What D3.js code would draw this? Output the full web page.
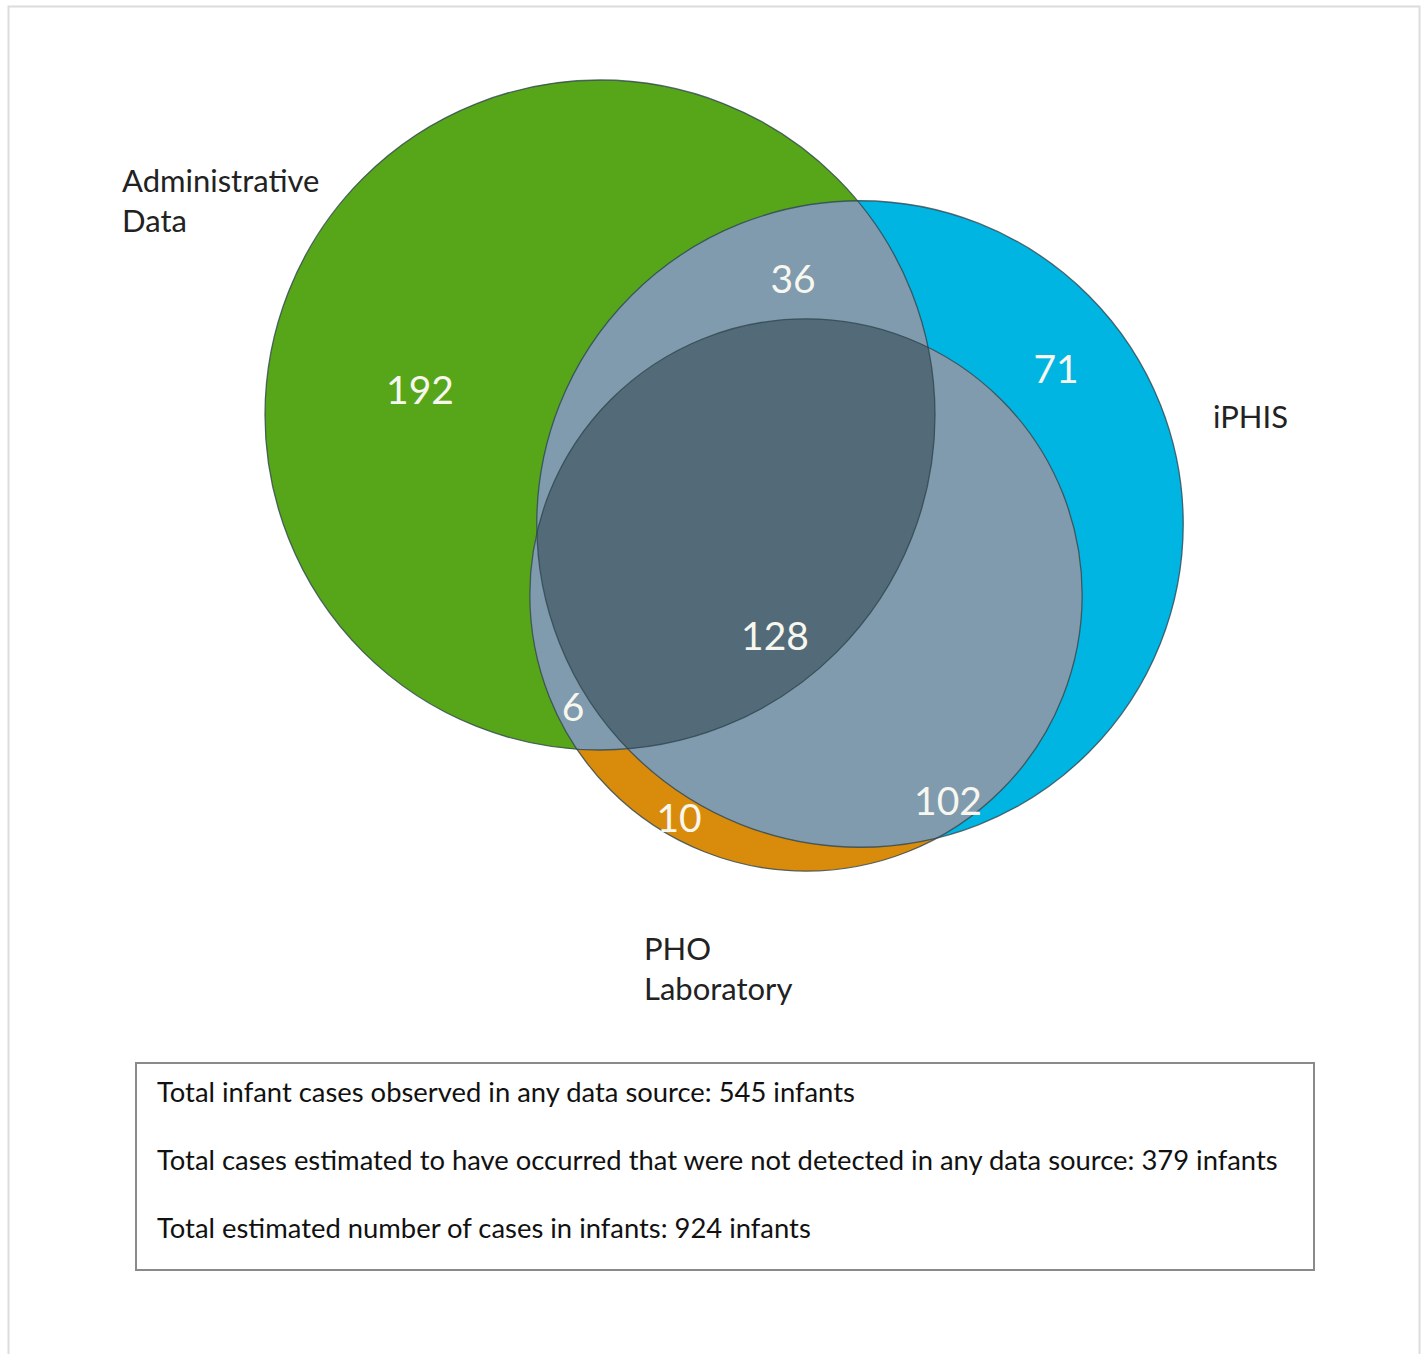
<!DOCTYPE html>
<html>
<head>
<meta charset="utf-8">
<script src="https://cdn.jsdelivr.net/npm/d3@7"></script>
<style>
  body { margin: 0; background: #fff; }
  text { font-family: Lato, "Open Sans", sans-serif; }
</style>
</head>
<body>
<script>

var w = 1423;
var h = 1354;

// sets and region counts (A = Administrative Data, B = iPHIS, C = PHO Laboratory)
var setKeys = ["A", "B", "C"];
var setNames = [["Administrative", "Data"], ["iPHIS"], ["PHO", "Laboratory"]];
var regionKeys = ["A", "B", "C", "AB", "AC", "BC", "ABC"];
var regionCounts = [192, 71, 10, 36, 6, 102, 128];

var summaryLines = [
  "Total infant cases observed in any data source: 545 infants",
  "Total cases estimated to have occurred that were not detected in any data source: 379 infants",
  "Total estimated number of cases in infants: 924 infants"
];

// layout (pixels)
var centers = { A: [600, 415], B: [860, 524], C: [806, 595] };
var setLabelPos = { A: [122, 192], B: [1213, 428], C: [644, 960] };
var regionLabelPos = {
  A: [420, 404], B: [1056, 383], C: [679, 832],
  AB: [793, 293], AC: [573, 721], BC: [948, 815], ABC: [775, 650]
};

var colors = { A: "#57a619", B: "#00b5e2", C: "#d98c0b" };
var pairColor = "#7f9bad";
var tripleColor = "#536b78";

// set totals -> area proportional radius
var totals = setKeys.map(function(k) {
  return d3.sum(regionKeys, function(r, i) { return r.indexOf(k) >= 0 ? regionCounts[i] : 0; });
});
var r = d3.scaleSqrt().domain([0, d3.max(totals)]).range([0, 335]);

var circles = setKeys.map(function(k, i) {
  return { key: k, cx: centers[k][0], cy: centers[k][1], r: r(totals[i]) };
});
var byKey = {};
circles.forEach(function(c) { byKey[c.key] = c; });

var svg = d3.select("body")
        .append("svg")
        .attr("width", w)
        .attr("height", h);

// outer frame
svg.append("rect")
    .attr("x", 8.5).attr("y", 6.5)
    .attr("width", 1411).attr("height", 1360)
    .attr("fill", "none")
    .attr("stroke", "#dcdcdc")
    .attr("stroke-width", 2);

var defs = svg.append("defs");
circles.forEach(function(c) {
  defs.append("clipPath").attr("id", "clip" + c.key)
    .append("circle")
    .attr("cx", c.cx).attr("cy", c.cy).attr("r", c.r);
});

// base circles
svg.selectAll("circle.set")
    .data(circles)
    .enter()
    .append("circle")
    .attr("class", "set")
    .attr("cx", function(d) { return d.cx; })
    .attr("cy", function(d) { return d.cy; })
    .attr("r", function(d) { return d.r; })
    .attr("fill", function(d) { return colors[d.key]; });

// pairwise overlaps
[["A", "B"], ["A", "C"], ["B", "C"]].forEach(function(p) {
  var c = byKey[p[1]];
  svg.append("g")
      .attr("clip-path", "url(#clip" + p[0] + ")")
    .append("circle")
      .attr("cx", c.cx).attr("cy", c.cy).attr("r", c.r)
      .attr("fill", pairColor);
});

// triple overlap
var c3 = byKey.C;
svg.append("g").attr("clip-path", "url(#clipA)")
  .append("g").attr("clip-path", "url(#clipB)")
  .append("circle")
    .attr("cx", c3.cx).attr("cy", c3.cy).attr("r", c3.r)
    .attr("fill", tripleColor);

// outlines
svg.selectAll("circle.outline")
    .data(circles)
    .enter()
    .append("circle")
    .attr("class", "outline")
    .attr("cx", function(d) { return d.cx; })
    .attr("cy", function(d) { return d.cy; })
    .attr("r", function(d) { return d.r; })
    .attr("fill", "none")
    .attr("stroke", "#2f4650")
    .attr("stroke-opacity", 0.8)
    .attr("stroke-width", 1.3);

// region counts
svg.selectAll("text.count")
    .data(regionKeys)
    .enter()
    .append("text")
    .attr("class", "count")
    .attr("x", function(d) { return regionLabelPos[d][0]; })
    .attr("y", function(d) { return regionLabelPos[d][1]; })
    .attr("text-anchor", "middle")
    .attr("fill", "#f7f7ef")
    .attr("font-size", 39)
    .text(function(d, i) { return regionCounts[i]; });

// set names
setKeys.forEach(function(k, i) {
  var t = svg.append("text")
      .attr("x", setLabelPos[k][0])
      .attr("y", setLabelPos[k][1])
      .attr("fill", "#222")
      .attr("font-size", 31);
  setNames[i].forEach(function(line, j) {
    t.append("tspan")
      .attr("x", setLabelPos[k][0])
      .attr("dy", j === 0 ? 0 : 40)
      .text(line);
  });
});

// summary box
svg.append("rect")
    .attr("x", 136).attr("y", 1063)
    .attr("width", 1178).attr("height", 207)
    .attr("fill", "none")
    .attr("stroke", "#8a8a8a")
    .attr("stroke-width", 2);

svg.selectAll("text.summary")
    .data(summaryLines)
    .enter()
    .append("text")
    .attr("class", "summary")
    .attr("x", 157)
    .attr("y", function(d, i) { return 1102 + i * 68; })
    .attr("fill", "#111")
    .attr("font-size", 27.4)
    .text(function(d) { return d; });

</script>
</body>
</html>
